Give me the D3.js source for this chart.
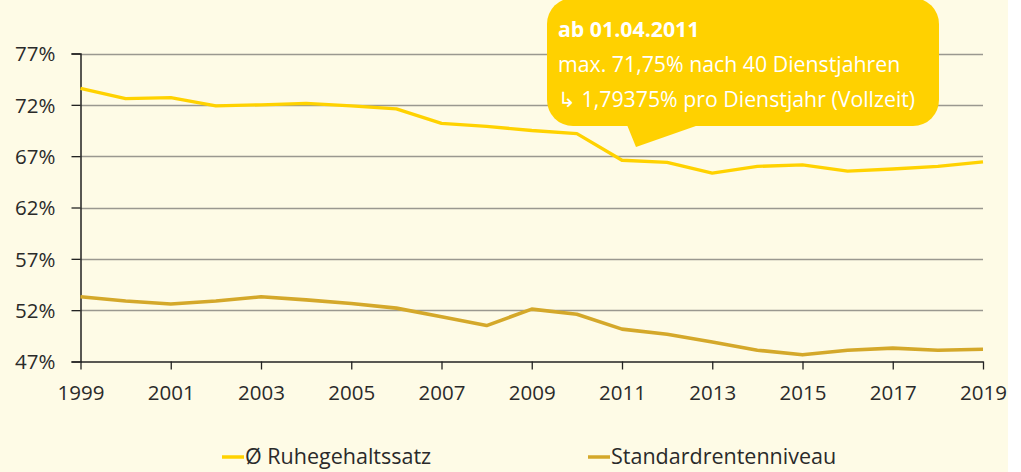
<!DOCTYPE html>
<html>
<head>
<meta charset="utf-8">
<script src="https://cdn.jsdelivr.net/npm/d3@7/dist/d3.min.js"></script>
<style>
  html, body { margin: 0; padding: 0; background: #ffffff; }
  svg { display: block; }
  text { font-family: "Open Sans", sans-serif; }
</style>
</head>
<body>
<svg id="chart" width="1021" height="472"></svg>
<script>
const years = [1999,2000,2001,2002,2003,2004,2005,2006,2007,2008,2009,2010,2011,2012,2013,2014,2015,2016,2017,2018,2019];
const ruhegehaltssatz = [73.6,72.6,72.7,71.9,72.0,72.15,71.9,71.6,70.2,69.9,69.5,69.2,66.6,66.4,65.35,66.0,66.15,65.55,65.75,66.0,66.45];
const standardrentenniveau = [53.3,52.9,52.6,52.9,53.3,53.0,52.65,52.2,51.35,50.5,52.1,51.6,50.15,49.65,48.9,48.1,47.65,48.1,48.3,48.1,48.2];
const yTicks = [47,52,57,62,67,72,77];
const xTicks = [1999,2001,2003,2005,2007,2009,2011,2013,2015,2017,2019];
const seriesNames = ["Ø Ruhegehaltssatz", "Standardrentenniveau"];
const seriesColors = ["#ffd200", "#d4a82a"];
const calloutLines = ["ab 01.04.2011", "max. 71,75% nach 40 Dienstjahren", "↳ 1,79375% pro Dienstjahr (Vollzeit)"];

const svg = d3.select("#chart");
svg.append("rect").attr("x",0).attr("y",0).attr("width",1008).attr("height",472).attr("fill","#fefbe6");

const x = d3.scaleLinear().domain([1999,2019]).range([80.5,983]);
const y = d3.scaleLinear().domain([47,77]).range([361.5,53.5]);

// grid
svg.append("g").selectAll("line").data(yTicks.slice(1)).join("line")
  .attr("x1",80.5).attr("x2",983).attr("y1",d=>Math.round(y(d))+0.5).attr("y2",d=>Math.round(y(d))+0.5)
  .attr("stroke","#9a9890").attr("stroke-width",1.3);

// y axis
const yAxis = svg.append("g").attr("transform","translate(80.5,0)")
  .call(d3.axisLeft(y).tickValues(yTicks).tickSize(9).tickPadding(16).tickFormat(d=>d+"%"));
yAxis.select(".domain").attr("stroke","#222").attr("stroke-width",1.5);
yAxis.selectAll(".tick line").attr("stroke","#222").attr("stroke-width",1.3);
yAxis.selectAll("text").attr("font-size",20.5).attr("fill","#2a2a2a").attr("font-family","Open Sans").attr("dy","0.35em");

// x axis
const xAxis = svg.append("g").attr("transform","translate(0,361.5)")
  .call(d3.axisBottom(x).tickValues(xTicks).tickSize(8).tickSizeOuter(0).tickPadding(16).tickFormat(d3.format("d")));
xAxis.select(".domain").attr("stroke","#222").attr("stroke-width",1.5);
xAxis.selectAll(".tick line").attr("stroke","#222").attr("stroke-width",1.3);
xAxis.selectAll("text").attr("font-size",20.5).attr("fill","#2a2a2a").attr("font-family","Open Sans");

// lines
const line = d3.line().x((d,i)=>x(years[i])).y(d=>y(d));
[ruhegehaltssatz, standardrentenniveau].forEach((s,k)=>{
  svg.append("path").datum(s).attr("d",line).attr("fill","none")
    .attr("stroke",seriesColors[k]).attr("stroke-width",k===0?3.3:3.6).attr("stroke-linejoin","round");
});

// callout
const cg = svg.append("g");
cg.append("rect").attr("x",547).attr("y",-2).attr("width",392).attr("height",128).attr("rx",26).attr("fill","#ffd100");
cg.append("path").attr("d","M625,120 L636,147 L713,120 Z").attr("fill","#ffd100");
calloutLines.forEach((t,i)=>{
  cg.append("text").attr("x",558).attr("y",37+i*35).text(t)
    .attr("fill","#ffffff").attr("font-size",21.3).attr("font-weight",i===0?700:400);
});

// legend
const lg = svg.append("g");
const legX = [222,588];
seriesNames.forEach((n,k)=>{
  lg.append("line").attr("x1",legX[k]).attr("x2",legX[k]+22).attr("y1",457).attr("y2",457)
    .attr("stroke",seriesColors[k]).attr("stroke-width",3.5);
  lg.append("text").attr("x",legX[k]+23).attr("y",464).text(n).attr("font-size",21.5).attr("fill","#2a2a2a");
});
</script>
</body>
</html>
